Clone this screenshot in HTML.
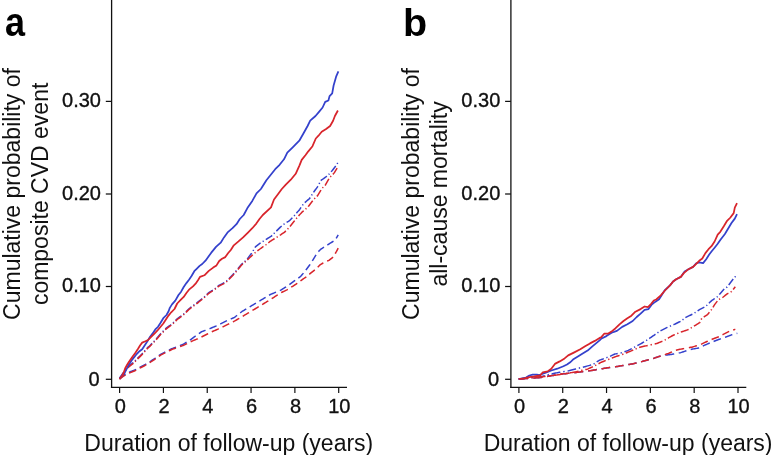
<!DOCTYPE html>
<html><head><meta charset="utf-8"><style>
html,body{margin:0;padding:0;background:#fff;width:776px;height:455px;overflow:hidden}
svg{display:block;filter:grayscale(0)}
.tl{stroke:#111;stroke-width:0.35px}
</style></head><body>
<svg width="776" height="455" viewBox="0 0 776 455">
<rect width="776" height="455" fill="#fff"/>
<text x="5.0" y="36" font-size="40" font-weight="bold" font-family="Liberation Sans, sans-serif" fill="#000" transform="translate(5,0) scale(0.9,1) translate(-5,0)">a</text>
<text x="403.0" y="36.3" font-size="38" font-weight="bold" font-family="Liberation Sans, sans-serif" fill="#000" transform="translate(403,0) scale(1.04,1) translate(-403,0)">b</text>
<line x1="111.6" y1="0" x2="111.6" y2="388.1" stroke="#111" stroke-width="1.3"/>
<line x1="110.94999999999999" y1="387.4" x2="347" y2="387.4" stroke="#111" stroke-width="1.3"/>
<line x1="105.8" y1="379.3" x2="111.6" y2="379.3" stroke="#111" stroke-width="1.25"/>
<text x="99.7" y="385.7" class="tl" text-anchor="end" font-size="20" font-family="Liberation Sans, sans-serif" fill="#111">0</text>
<line x1="105.8" y1="286.5" x2="111.6" y2="286.5" stroke="#111" stroke-width="1.25"/>
<text x="101.0" y="292.2" class="tl" text-anchor="end" font-size="20" font-family="Liberation Sans, sans-serif" fill="#111">0.10</text>
<line x1="105.8" y1="194.0" x2="111.6" y2="194.0" stroke="#111" stroke-width="1.25"/>
<text x="101.0" y="199.7" class="tl" text-anchor="end" font-size="20" font-family="Liberation Sans, sans-serif" fill="#111">0.20</text>
<line x1="105.8" y1="101.4" x2="111.6" y2="101.4" stroke="#111" stroke-width="1.25"/>
<text x="101.0" y="107.10000000000001" class="tl" text-anchor="end" font-size="20" font-family="Liberation Sans, sans-serif" fill="#111">0.30</text>
<line x1="119.6" y1="387.4" x2="119.6" y2="393" stroke="#111" stroke-width="1.2"/>
<text x="120.19999999999999" y="412.9" class="tl" text-anchor="middle" font-size="20" font-family="Liberation Sans, sans-serif" fill="#111">0</text>
<line x1="163.42" y1="387.4" x2="163.42" y2="393" stroke="#111" stroke-width="1.2"/>
<text x="164.01999999999998" y="412.9" class="tl" text-anchor="middle" font-size="20" font-family="Liberation Sans, sans-serif" fill="#111">2</text>
<line x1="207.24" y1="387.4" x2="207.24" y2="393" stroke="#111" stroke-width="1.2"/>
<text x="207.84" y="412.9" class="tl" text-anchor="middle" font-size="20" font-family="Liberation Sans, sans-serif" fill="#111">4</text>
<line x1="251.06" y1="387.4" x2="251.06" y2="393" stroke="#111" stroke-width="1.2"/>
<text x="251.66" y="412.9" class="tl" text-anchor="middle" font-size="20" font-family="Liberation Sans, sans-serif" fill="#111">6</text>
<line x1="294.88" y1="387.4" x2="294.88" y2="393" stroke="#111" stroke-width="1.2"/>
<text x="295.48" y="412.9" class="tl" text-anchor="middle" font-size="20" font-family="Liberation Sans, sans-serif" fill="#111">8</text>
<line x1="338.7" y1="387.4" x2="338.7" y2="393" stroke="#111" stroke-width="1.2"/>
<text x="339.3" y="412.9" class="tl" text-anchor="middle" font-size="20" font-family="Liberation Sans, sans-serif" fill="#111">10</text>
<text x="228.8" y="451.0" text-anchor="middle" font-size="23" font-family="Liberation Sans, sans-serif" fill="#111">Duration of follow-up (years)</text>
<text transform="translate(20.1,194.0) rotate(-90)" text-anchor="middle" font-size="23" font-family="Liberation Sans, sans-serif" fill="#111">Cumulative probability of</text>
<text transform="translate(48.1,193.9) rotate(-90)" text-anchor="middle" font-size="23" font-family="Liberation Sans, sans-serif" fill="#111">composite CVD event</text>
<path d="M119.50,378.20L120.50,377.49L121.50,376.77L122.50,376.06L123.49,375.42L124.47,374.85L125.46,374.28L125.54,374.24M129.04,372.24L129.88,371.92L130.87,371.53L131.85,371.15L132.84,370.76L133.82,370.38L134.81,369.99L135.79,369.52L136.13,369.33M139.66,367.36L140.50,366.94L141.50,366.43L142.50,365.92L143.50,365.42L144.50,364.91L145.50,364.40L146.25,363.95M149.64,361.84L150.53,361.26L151.52,360.62L152.52,359.98L153.51,359.34L154.50,358.70L155.48,358.00L155.66,357.86M158.86,355.56L159.62,355.00L160.60,354.30L161.58,353.81L162.56,353.32L163.53,352.83L164.51,352.34L165.27,351.97M168.93,350.13L169.84,349.68L170.80,349.20L171.76,348.72L172.75,348.34L173.75,348.00L174.75,347.65L175.75,347.30L176.01,347.21M179.94,345.64L180.75,345.29L181.75,344.86L182.75,344.43L183.75,343.95L184.75,343.35L185.75,342.75L186.56,342.26M189.96,340.16L190.72,339.60L191.69,338.88L192.66,338.16L193.64,337.44L194.61,336.72L195.58,336.00L195.71,335.91M198.91,333.61L199.68,333.06L200.64,332.38L201.60,331.70L202.57,331.34L203.55,330.98L204.52,330.62L205.49,330.26L205.54,330.24M209.54,328.74L210.39,328.38L211.38,327.97L212.38,327.55L213.37,327.14L214.36,326.72L215.36,326.31L216.34,325.88L216.57,325.77M220.26,323.96L221.00,323.60L221.99,323.10L222.99,322.61L223.98,322.11L224.97,321.61L225.97,321.12L226.93,320.63M230.75,318.95L231.62,318.60L232.59,318.20L233.57,317.80L234.55,317.31L235.55,316.53L236.55,315.76L237.12,315.32M240.22,312.92L241.05,312.27L242.05,311.49L243.03,310.86L244.01,310.27L244.99,309.68L245.97,309.09L246.23,308.93M249.67,306.87L250.62,306.29L251.60,305.70L252.59,305.11L253.58,304.52L254.57,303.93L255.56,303.34L255.92,303.12M259.37,301.07L260.26,300.54L261.24,299.95L262.22,299.36L263.20,298.77L264.18,298.18L265.16,297.59L265.62,297.32M269.05,295.25L269.81,294.79L270.80,294.30L271.79,293.89L272.79,293.48L273.78,293.07L274.78,292.66L275.77,292.25L275.97,292.17M279.86,290.56L280.74,290.15L281.72,289.54L282.70,288.93L283.68,288.33L284.66,287.72L285.64,287.11L286.12,286.82M289.38,284.58L290.35,283.86L291.35,283.11L292.35,282.37L293.35,281.63L294.35,280.89L295.13,280.33M298.34,278.04L299.31,277.36L300.30,276.65L301.20,275.82L302.00,274.85L302.80,273.89L303.43,273.13M305.88,270.08L306.50,269.25L307.24,268.25L307.99,267.25L308.73,266.25L309.47,265.25L310.14,264.34M312.27,260.97L312.83,260.08L313.43,259.10L314.04,258.12L314.65,257.14L315.25,256.17L315.85,255.19L316.09,254.79M318.40,251.60L319.25,250.75L320.25,249.75L321.24,248.86L322.22,248.28L323.20,247.70L324.02,247.22M327.39,245.09L328.29,244.49L329.25,243.85L330.22,243.22L331.19,242.60L332.17,242.00L333.14,241.40L333.49,241.19M336.17,238.37L336.65,237.55L337.21,236.59L337.78,235.62L338.20,234.90" fill="none" stroke="#3441cc" stroke-width="1.5" stroke-linejoin="round" stroke-linecap="butt"/>
<path d="M119.50,379.00L120.50,378.29L121.50,377.57L122.50,376.86L123.49,376.22L124.47,375.65L125.46,375.08L125.54,375.04M129.04,373.04L129.88,372.72L130.87,372.33L131.85,371.95L132.84,371.56L133.82,371.18L134.81,370.79L135.79,370.32L136.13,370.13M139.66,368.16L140.50,367.74L141.50,367.23L142.50,366.72L143.50,366.22L144.50,365.71L145.50,365.20L146.25,364.75M149.64,362.64L150.53,362.06L151.52,361.42L152.52,360.78L153.51,360.14L154.50,359.50L155.48,358.80L155.66,358.66M158.86,356.36L159.62,355.80L160.60,355.10L161.58,354.61L162.56,354.12L163.53,353.63L164.51,353.14L165.27,352.77M168.93,350.93L169.84,350.48L170.80,350.00L171.76,349.52L172.75,349.14L173.75,348.80L174.75,348.45L175.75,348.10L176.01,348.01M180.06,346.56L181.00,346.22L182.00,345.85L183.00,345.48L184.00,345.05L184.99,344.56L185.98,344.06L186.98,343.56L187.03,343.53M190.70,341.70L191.70,341.28L192.70,340.85L193.70,340.43L194.70,340.01L195.70,339.58L196.70,339.16L197.70,338.74L197.72,338.72M201.47,336.97L202.43,336.49L203.42,335.99L204.41,335.49L205.41,335.00L206.40,334.50L207.38,334.00L208.12,333.62M211.79,331.79L212.54,331.47L213.52,331.05L214.51,330.62L215.50,330.20L216.49,329.78L217.48,329.35L218.46,328.93L218.79,328.79M222.52,327.02L223.36,326.60L224.34,326.12L225.31,325.64L226.30,325.15L227.30,324.66L228.30,324.16L229.21,323.71M232.89,321.89L233.80,321.45L234.80,320.91L235.80,320.32L236.80,319.73L237.80,319.14L238.80,318.56L239.28,318.28M242.74,316.24L243.52,315.78L244.50,315.20L245.48,314.62L246.46,314.04L247.44,313.46L248.42,312.88L249.02,312.52M252.47,310.47L253.33,309.95L254.32,309.35L255.31,308.75L256.30,308.15L257.29,307.55L258.28,306.95L258.70,306.70M262.12,304.62L262.96,304.10L263.94,303.50L264.92,302.90L265.89,302.30L266.87,301.70L267.85,301.10L268.32,300.82M271.70,298.70L272.54,298.15L273.53,297.51L274.53,296.86L275.52,296.22L276.52,295.58L277.51,294.93L277.77,294.77M281.17,292.67L281.97,292.28L282.95,291.79L283.93,291.31L284.91,290.83L285.89,290.34L286.87,289.86L287.85,289.35M291.22,287.22L292.10,286.67L293.10,286.04L294.10,285.41L295.10,284.75L296.09,284.04L297.08,283.34L297.23,283.23M300.45,280.95L301.29,280.35L302.26,279.64L303.24,278.94L304.22,278.24L305.19,277.53L306.17,276.83L306.26,276.76M309.30,274.30L310.03,273.70L311.00,272.90L311.96,272.10L312.93,271.32L313.91,270.54L314.82,269.82M317.73,267.23L318.47,266.48L319.40,265.52L320.34,264.66L321.32,264.08L322.30,263.50L323.28,262.92L323.37,262.87M327.13,261.13L327.92,260.80L328.90,260.40L329.88,259.62L330.86,258.84L331.83,258.07L332.81,257.29L333.08,257.08M335.19,253.69L335.76,252.74L336.28,251.77L336.79,250.79L337.31,249.81L337.82,248.83L338.20,248.10" fill="none" stroke="#d8242b" stroke-width="1.5" stroke-linejoin="round" stroke-linecap="butt"/>
<path d="M119.50,378.30L120.19,377.30L120.88,376.30L121.58,375.30L122.27,374.30L122.96,373.30L123.65,372.30L123.80,372.10M125.30,370.20L125.95,369.40L126.06,369.26M127.59,367.39L128.39,366.60L129.36,365.80L130.33,365.00L131.31,364.20L132.28,363.40L133.26,362.60L133.28,362.58M135.00,360.90L135.75,360.15L135.85,360.05M137.55,358.35L138.50,357.40L139.49,356.41L140.48,355.42L141.47,354.43L142.45,353.45L142.79,353.09M144.37,351.27L145.00,350.55L145.16,350.36M146.74,348.54L147.55,347.68L148.53,346.81L149.51,345.94L150.47,345.03L151.41,344.09L152.10,343.40M153.77,341.67L154.56,340.76M156.16,338.96L156.82,338.20L157.70,337.20L158.52,336.25L159.35,335.30L160.18,334.35L161.00,333.40L161.05,333.35M162.75,331.65L163.50,330.90L163.60,330.80M165.30,329.10L166.25,328.15L167.25,327.37L168.25,326.66L169.25,325.95L170.25,325.24L171.24,324.54M173.05,322.95L173.90,322.10M175.60,320.40L176.50,319.50L177.50,318.50L178.50,317.81L179.50,317.12L180.50,316.43L181.46,315.76M183.40,314.30L184.25,313.45M185.95,311.75L186.75,310.95L187.75,309.95L188.74,309.01L189.71,308.24L190.69,307.46L191.51,306.81M193.45,305.35L194.40,304.65L194.43,304.63M196.38,303.18L197.14,302.61L198.12,301.84L199.10,301.07L200.08,300.30L201.06,299.53L202.03,298.76L202.27,298.57M204.12,297.02L204.95,296.24L204.99,296.19M206.74,294.54L207.60,293.74L208.56,292.83L209.55,292.14L210.55,291.52L211.55,290.90L212.55,290.28L212.82,290.12M214.85,288.75L215.78,287.98M217.63,286.43L218.51,285.71L219.48,285.08L220.45,284.63L221.41,284.18L222.38,283.74L223.34,283.24L224.28,282.61L224.30,282.60M226.34,281.24L227.13,280.47L227.20,280.40M228.90,278.70L229.82,277.78L230.80,276.80L231.78,275.82L232.76,274.84L233.62,273.87L234.05,273.35M235.61,271.51L236.30,270.70L236.39,270.59M237.94,268.74L238.74,267.77L239.56,266.79L240.37,265.81L241.19,264.83L242.04,263.89L242.87,263.17M244.70,261.60L245.47,260.93L245.61,260.81M247.19,258.99L247.88,258.10L248.62,257.12L249.37,256.14L250.11,255.16L250.86,254.18L251.60,253.20L251.71,253.01M253.00,250.90L253.53,250.02L253.64,249.84M254.92,247.72L255.45,246.84L256.32,246.07L257.29,245.36L258.25,244.65L259.21,243.94L260.18,243.23L260.61,242.91M262.67,241.57L263.62,240.97L263.71,240.91M265.79,239.59L266.58,239.10L267.55,238.50L268.51,237.90L269.47,237.30L270.44,236.70L271.40,236.10L272.10,235.40M273.80,233.70L274.65,232.85L274.65,232.85M276.35,231.15L277.13,230.37L278.12,229.38L279.11,228.39L280.10,227.40L281.10,226.49L281.70,226.00M283.56,224.46L284.35,223.81L284.49,223.69M286.62,222.42L287.51,221.89L288.47,221.33L289.44,220.66L290.41,219.69L291.38,218.72L292.35,217.75L292.40,217.70M294.08,215.98L294.85,215.07L294.86,215.06M296.43,213.23L297.17,212.36L298.01,211.37L298.86,210.39L299.70,209.40L300.37,208.42L301.03,207.43L301.07,207.37M302.45,205.35L303.03,204.48L303.13,204.33M304.78,202.58L305.67,201.83L306.65,201.00L307.63,200.17L308.62,199.33L309.60,198.50L310.22,197.52M311.54,195.44L312.13,194.50L312.20,194.40M313.53,192.33L314.12,191.52L314.83,190.54L315.55,189.56L316.27,188.58L316.99,187.60L317.70,186.62L317.97,186.27M319.13,184.03L319.45,183.22L319.61,182.81M320.75,180.55L321.62,179.94L322.60,179.25L323.58,178.56L324.56,177.87L325.54,177.18L326.52,176.49L326.91,176.21M328.64,174.54L329.44,173.64M331.05,171.85L331.90,170.90L332.67,169.92L333.43,168.93L334.20,167.95L334.97,166.97L335.71,166.01M337.09,163.99L337.61,163.09L337.71,162.91" fill="none" stroke="#3441cc" stroke-width="1.5" stroke-linejoin="round" stroke-linecap="butt"/>
<path d="M119.50,379.00L120.19,378.00L120.88,377.00L121.58,376.00L122.27,375.00L122.96,374.00L123.65,373.00L123.80,372.80M125.30,370.90L125.95,370.10L126.06,369.96M127.59,368.09L128.39,367.30L129.36,366.50L130.33,365.70L131.31,364.90L132.28,364.10L133.26,363.30L133.28,363.28M135.00,361.60L135.85,360.75M137.55,359.05L138.50,358.10L139.49,357.11L140.48,356.12L141.47,355.13L142.45,354.15L142.79,353.79M144.37,351.97L145.00,351.25L145.16,351.06M146.74,349.24L147.55,348.38L148.53,347.51L149.51,346.64L150.47,345.73L151.41,344.79L152.10,344.10M153.77,342.37L154.56,341.46M156.16,339.66L156.82,338.90L157.70,337.90L158.52,336.95L159.35,336.00L160.18,335.05L161.00,334.10L161.05,334.05M162.75,332.35L163.60,331.50M165.30,329.80L166.25,328.85L167.25,328.07L168.25,327.36L169.25,326.65L170.25,325.94L171.24,325.24M173.05,323.65L173.90,322.80M175.60,321.10L176.50,320.20L177.50,319.20L178.50,318.51L179.50,317.82L180.50,317.13L181.46,316.46M183.40,315.00L184.25,314.15M185.95,312.45L186.75,311.65L187.75,310.65L188.74,309.71L189.71,308.94L190.69,308.16L191.51,307.51M193.45,306.05L194.40,305.35L194.43,305.33M196.38,303.88L197.14,303.31L198.12,302.54L199.10,301.77L200.08,301.00L201.06,300.23L202.03,299.46L202.27,299.27M204.12,297.72L204.95,296.94L204.99,296.89M206.74,295.24L207.60,294.44L208.56,293.53L209.55,292.84L210.55,292.22L211.55,291.60L212.55,290.98L212.82,290.82M214.85,289.45L215.78,288.68M217.63,287.13L218.51,286.41L219.48,285.78L220.45,285.33L221.41,284.88L222.38,284.44L223.34,283.94L224.28,283.31L224.30,283.30M226.34,281.94L227.13,281.17L227.20,281.10M228.90,279.40L229.82,278.48L230.80,277.50L231.78,276.52L232.76,275.54L233.62,274.57L234.05,274.05M235.61,272.21L236.30,271.40L236.39,271.29M237.94,269.44L238.74,268.47L239.56,267.49L240.37,266.51L241.19,265.53L242.04,264.59L242.87,263.87M244.70,262.30L245.47,261.63L245.61,261.51M247.38,259.88L248.14,259.14L249.11,258.21L250.09,257.29L251.06,256.36L252.03,255.43L252.74,254.74M254.59,253.19L255.44,252.50L255.53,252.43M257.41,250.91L258.35,250.21L259.31,249.48L260.27,248.75L261.24,248.03L262.20,247.30L263.18,246.65L263.46,246.46M265.50,245.10L266.35,244.49L266.48,244.38M268.35,242.85L269.10,242.22L270.10,241.40L271.06,240.80L272.03,240.20L272.99,239.60L273.95,239.00L274.60,238.60M276.68,237.28L277.63,236.69L277.72,236.62M279.80,235.30L280.60,234.80L281.60,234.12L282.60,233.45L283.60,232.78L284.60,232.10L285.57,231.13L285.85,230.85M287.55,229.15L288.40,228.30M290.00,226.50L290.78,225.51L291.56,224.52L292.35,223.52L293.14,222.53L293.93,221.54L294.64,220.64M296.17,218.77L296.96,217.86M298.54,216.04L299.34,215.11L300.20,214.12L301.06,213.14L301.95,212.19L302.93,211.36L303.70,210.70M305.54,209.14L306.37,208.44L306.46,208.36M308.16,206.66L308.73,205.92L309.48,204.93L310.23,203.94L310.98,202.96L311.73,201.97L312.48,200.98L312.69,200.69M314.26,198.86L315.10,198.04L315.12,198.02M316.84,196.34L317.60,195.60L318.21,194.62L318.81,193.64L319.42,192.66L320.03,191.68L320.63,190.70L321.04,190.04M322.45,188.05L323.18,187.32L323.30,187.20M325.00,185.50L325.58,184.70L326.15,183.71L326.72,182.72L327.29,181.72L327.85,180.73L328.42,179.74L328.90,178.90M330.30,176.90L331.15,176.05M332.85,174.35L333.61,173.59L334.40,172.61L335.00,171.64L335.60,170.67L336.20,169.70L336.80,168.73L337.15,168.15" fill="none" stroke="#d8242b" stroke-width="1.5" stroke-linejoin="round" stroke-linecap="butt"/>
<path d="M119.5,379.0 L124.0,374.1 L129.0,364.4 L131.6,360.4 L134.2,357.1 L136.9,353.8 L139.5,351.2 L142.2,349.2 L144.8,345.2 L147.4,341.3 L150.1,336.7 L152.7,333.4 L155.3,329.4 L158.0,326.8 L160.6,322.8 L163.3,318.2 L166.5,315.0 L168.7,311.0 L169.8,307.9 L172.0,304.4 L175.3,300.6 L178.5,295.0 L181.1,291.7 L183.7,287.0 L186.4,283.1 L189.0,279.8 L191.7,275.8 L194.3,271.2 L196.9,268.6 L199.6,265.9 L202.2,264.0 L205.5,260.7 L211.1,252.9 L216.0,246.9 L220.7,242.7 L224.0,237.4 L227.9,232.1 L232.5,228.2 L236.5,224.2 L239.8,219.0 L243.7,215.0 L247.4,208.1 L252.3,200.9 L256.5,193.4 L260.9,189.0 L266.4,180.2 L270.8,174.7 L275.2,169.2 L279.6,164.8 L284.0,159.3 L287.3,152.7 L292.7,147.3 L299.3,140.7 L303.7,133.0 L307.6,126.0 L310.2,120.7 L315.5,116.0 L319.0,111.9 L322.6,107.5 L325.2,101.9 L328.4,100.5 L329.6,96.1 L332.2,93.4 L333.6,85.5 L336.1,76.7 L338.4,71.4" fill="none" stroke="#3441cc" stroke-width="1.75" stroke-linejoin="round" stroke-linecap="butt"/>
<path d="M119.5,379.0 L122.8,375.2 L125.1,368.5 L127.0,365.0 L129.0,361.7 L132.3,357.1 L135.6,352.5 L138.2,348.5 L140.2,345.2 L142.2,342.6 L145.4,341.3 L148.1,340.0 L151.4,336.7 L154.7,333.4 L157.3,330.7 L160.6,326.8 L163.3,323.5 L165.9,319.5 L168.5,315.6 L171.2,312.3 L174.5,309.0 L177.2,303.5 L180.4,300.2 L183.7,296.9 L186.4,293.0 L189.0,289.7 L193.0,286.4 L195.6,283.7 L198.3,279.8 L200.0,276.9 L204.4,275.3 L208.8,270.9 L213.2,267.6 L216.5,265.4 L219.2,261.0 L222.0,258.8 L225.3,257.1 L228.0,253.3 L230.8,250.0 L233.8,245.3 L238.5,241.4 L243.1,237.4 L247.7,232.8 L252.3,228.2 L256.3,223.6 L259.5,219.0 L262.8,215.0 L271.0,207.4 L274.0,199.5 L278.5,193.4 L281.8,189.0 L285.8,184.7 L290.8,179.7 L295.7,173.8 L299.5,165.3 L301.7,159.9 L305.6,155.0 L308.1,151.6 L312.5,146.2 L315.8,138.5 L318.5,135.7 L321.7,131.8 L326.1,129.0 L330.1,126.0 L333.1,120.7 L334.9,116.0 L337.9,110.5" fill="none" stroke="#d8242b" stroke-width="1.75" stroke-linejoin="round" stroke-linecap="butt"/>
<line x1="510.9" y1="0" x2="510.9" y2="388.1" stroke="#111" stroke-width="1.3"/>
<line x1="510.25" y1="387.4" x2="746.3" y2="387.4" stroke="#111" stroke-width="1.3"/>
<line x1="505.1" y1="379.3" x2="510.9" y2="379.3" stroke="#111" stroke-width="1.25"/>
<text x="499.0" y="385.7" class="tl" text-anchor="end" font-size="20" font-family="Liberation Sans, sans-serif" fill="#111">0</text>
<line x1="505.1" y1="286.5" x2="510.9" y2="286.5" stroke="#111" stroke-width="1.25"/>
<text x="500.3" y="292.2" class="tl" text-anchor="end" font-size="20" font-family="Liberation Sans, sans-serif" fill="#111">0.10</text>
<line x1="505.1" y1="194.0" x2="510.9" y2="194.0" stroke="#111" stroke-width="1.25"/>
<text x="500.3" y="199.7" class="tl" text-anchor="end" font-size="20" font-family="Liberation Sans, sans-serif" fill="#111">0.20</text>
<line x1="505.1" y1="101.4" x2="510.9" y2="101.4" stroke="#111" stroke-width="1.25"/>
<text x="500.3" y="107.10000000000001" class="tl" text-anchor="end" font-size="20" font-family="Liberation Sans, sans-serif" fill="#111">0.30</text>
<line x1="518.9" y1="387.4" x2="518.9" y2="393" stroke="#111" stroke-width="1.2"/>
<text x="519.5" y="412.9" class="tl" text-anchor="middle" font-size="20" font-family="Liberation Sans, sans-serif" fill="#111">0</text>
<line x1="562.72" y1="387.4" x2="562.72" y2="393" stroke="#111" stroke-width="1.2"/>
<text x="563.32" y="412.9" class="tl" text-anchor="middle" font-size="20" font-family="Liberation Sans, sans-serif" fill="#111">2</text>
<line x1="606.54" y1="387.4" x2="606.54" y2="393" stroke="#111" stroke-width="1.2"/>
<text x="607.14" y="412.9" class="tl" text-anchor="middle" font-size="20" font-family="Liberation Sans, sans-serif" fill="#111">4</text>
<line x1="650.36" y1="387.4" x2="650.36" y2="393" stroke="#111" stroke-width="1.2"/>
<text x="650.96" y="412.9" class="tl" text-anchor="middle" font-size="20" font-family="Liberation Sans, sans-serif" fill="#111">6</text>
<line x1="694.18" y1="387.4" x2="694.18" y2="393" stroke="#111" stroke-width="1.2"/>
<text x="694.78" y="412.9" class="tl" text-anchor="middle" font-size="20" font-family="Liberation Sans, sans-serif" fill="#111">8</text>
<line x1="738.0" y1="387.4" x2="738.0" y2="393" stroke="#111" stroke-width="1.2"/>
<text x="738.6" y="412.9" class="tl" text-anchor="middle" font-size="20" font-family="Liberation Sans, sans-serif" fill="#111">10</text>
<text x="628.1" y="451.0" text-anchor="middle" font-size="23" font-family="Liberation Sans, sans-serif" fill="#111">Duration of follow-up (years)</text>
<text transform="translate(419.40000000000003,194.0) rotate(-90)" text-anchor="middle" font-size="23" font-family="Liberation Sans, sans-serif" fill="#111">Cumulative probability of</text>
<text transform="translate(447.40000000000003,193.9) rotate(-90)" text-anchor="middle" font-size="23" font-family="Liberation Sans, sans-serif" fill="#111">all-cause mortality</text>
<path d="M518.70,379.00L519.69,378.93L520.68,378.87L521.67,378.80L522.66,378.74L523.65,378.67L524.64,378.61L525.63,378.54L526.63,378.48L527.62,378.41L528.08,378.38M533.24,378.04L534.06,377.99L535.05,377.93L536.04,377.86L537.03,377.80L538.02,377.73L539.01,377.67L540.00,377.60L541.00,377.43L542.00,377.26L542.39,377.19M547.09,376.39L548.00,376.24L549.00,376.07L550.00,375.90L551.00,375.73L552.00,375.56L553.00,375.39L554.00,375.22L555.00,375.05L555.64,374.94M560.36,374.16L561.25,374.07L562.25,373.97L563.25,373.86L564.25,373.76L565.25,373.66L566.25,373.55L567.25,373.45L568.25,373.35L569.25,373.25L569.43,373.23M574.41,372.71L575.25,372.63L576.25,372.50L577.24,372.37L578.23,372.25L579.23,372.12L580.22,371.99L581.21,371.86L582.21,371.73L583.20,371.60L583.29,371.59M588.16,370.96L588.91,370.86L589.91,370.73L590.90,370.60L591.90,370.43L592.90,370.26L593.90,370.10L594.90,369.93L595.90,369.76L596.81,369.61M601.52,368.82L602.40,368.67L603.40,368.50L604.40,368.34L605.40,368.17L606.40,368.00L607.38,367.86L608.37,367.72L609.35,367.58L610.17,367.47M614.98,366.78L615.73,366.68L616.72,366.54L617.70,366.40L618.70,366.23L619.70,366.06L620.70,365.88L621.70,365.71L622.70,365.54L623.59,365.39M628.28,364.58L629.20,364.42L630.20,364.24L631.20,364.07L632.20,363.90L633.19,363.68L634.19,363.46L635.18,363.24L636.17,363.02L636.62,362.92M641.03,361.83L641.82,361.61L642.79,361.33L643.76,361.05L644.73,360.78L645.70,360.50L646.70,360.22L647.70,359.94L648.70,359.65L648.82,359.62M653.11,358.41L653.95,358.17L654.94,357.85L655.94,357.52L656.93,357.19L657.92,356.86L658.92,356.53L659.91,356.20L660.65,355.95M665.41,355.21L666.30,355.10L667.29,354.96L668.28,354.82L669.26,354.68L670.25,354.54L671.24,354.39L672.23,354.25L673.22,354.11L674.18,353.97M678.74,353.04L679.58,352.86L680.56,352.65L681.54,352.35L682.54,352.02L683.53,351.69L684.52,351.36L685.52,351.03L686.43,350.72M690.73,349.53L691.67,349.30L692.65,349.06L693.63,348.88L694.61,348.71L695.59,348.54L696.57,348.38L697.55,348.21L698.53,348.05L699.14,347.94M702.82,346.12L703.70,345.60L704.69,345.18L705.68,344.75L706.66,344.32L707.65,343.90L708.64,343.48L709.62,343.05L709.71,343.01M713.63,341.43L714.56,341.07L715.55,340.70L716.54,340.32L717.52,339.95L718.51,339.57L719.50,339.20L720.48,338.87L720.92,338.72M725.03,337.33L725.90,337.01L726.90,336.62L727.90,336.24L728.90,335.86L729.90,335.47L730.90,335.09L731.89,334.77L732.34,334.64M736.67,333.47L737.30,333.30" fill="none" stroke="#3441cc" stroke-width="1.5" stroke-linejoin="round" stroke-linecap="butt"/>
<path d="M518.70,379.00L519.69,378.93L520.68,378.87L521.67,378.80L522.66,378.74L523.65,378.67L524.64,378.61L525.63,378.54L526.63,378.48L527.62,378.41L528.08,378.38M533.24,378.04L534.06,377.99L535.05,377.93L536.04,377.86L537.03,377.80L538.02,377.73L539.01,377.67L540.00,377.60L541.00,377.43L542.00,377.26L542.39,377.19M547.09,376.39L548.00,376.24L549.00,376.07L550.00,375.90L551.00,375.73L552.00,375.56L553.00,375.39L554.00,375.22L555.00,375.05L555.64,374.94M560.36,374.16L561.25,374.07L562.25,373.97L563.25,373.86L564.25,373.76L565.25,373.66L566.25,373.55L567.25,373.45L568.25,373.35L569.25,373.25L569.43,373.23M574.41,372.71L575.25,372.63L576.25,372.50L577.24,372.37L578.23,372.25L579.23,372.12L580.22,371.99L581.21,371.86L582.21,371.73L583.20,371.60L583.29,371.59M588.16,370.96L588.91,370.86L589.91,370.73L590.90,370.60L591.90,370.43L592.90,370.26L593.90,370.10L594.90,369.93L595.90,369.76L596.81,369.61M601.52,368.82L602.40,368.67L603.40,368.50L604.40,368.34L605.40,368.17L606.40,368.00L607.38,367.86L608.37,367.72L609.35,367.58L610.17,367.47M614.98,366.78L615.73,366.68L616.72,366.54L617.70,366.40L618.70,366.23L619.70,366.06L620.70,365.88L621.70,365.71L622.70,365.54L623.59,365.39M628.28,364.58L629.20,364.42L630.20,364.24L631.20,364.07L632.20,363.90L633.19,363.68L634.19,363.46L635.18,363.24L636.17,363.02L636.62,362.92M641.03,361.83L641.82,361.61L642.79,361.33L643.76,361.05L644.73,360.78L645.70,360.50L646.70,360.22L647.70,359.94L648.70,359.65L648.82,359.62M653.11,358.41L653.95,358.17L654.94,357.85L655.94,357.52L656.93,357.19L657.92,356.86L658.92,356.53L659.91,356.20L660.65,355.95M664.79,354.59L665.54,354.34L666.51,354.02L667.48,353.70L668.46,353.38L669.44,352.98L670.44,352.55L671.43,352.12L672.06,351.86M675.90,350.20L676.90,349.99L677.90,349.78L678.90,349.56L679.90,349.35L680.90,349.14L681.90,348.93L682.90,348.72L683.90,348.51L684.15,348.45M688.87,347.67L689.75,347.52L690.73,347.36L691.70,347.20L692.68,346.92L693.65,346.64L694.63,346.35L695.61,346.07L696.58,345.79L696.90,345.70M701.01,344.31L701.97,343.86L702.95,343.38L703.94,342.91L704.92,342.44L705.91,341.97L706.89,341.50L707.77,341.07M711.63,339.43L712.56,339.07L713.55,338.70L714.54,338.32L715.52,337.95L716.51,337.57L717.50,337.20L718.50,336.72L718.78,336.58M722.49,334.79L723.25,334.42L724.24,333.93L725.22,333.43L726.20,332.93L727.19,332.43L728.17,331.93L729.13,331.43M733.21,330.01L734.07,329.72L735.05,329.38L735.30,329.30" fill="none" stroke="#d8242b" stroke-width="1.5" stroke-linejoin="round" stroke-linecap="butt"/>
<path d="M518.70,379.00L519.69,378.90L520.68,378.80L521.67,378.69L522.66,378.59L523.65,378.49L524.64,378.39L525.63,378.28L526.63,378.18L527.62,378.08L528.22,378.02M531.30,377.70L532.07,377.62L532.84,377.54M535.92,377.22L536.78,377.13L537.77,377.03L538.76,376.93L539.75,376.83L540.74,376.62L541.72,376.37L542.71,376.13L543.69,375.88L544.68,375.64L544.81,375.61M547.53,374.93L548.37,374.72L548.89,374.59M551.62,373.92L552.56,373.68L553.55,373.45L554.54,373.26L555.53,373.07L556.53,372.87L557.52,372.68L558.51,372.49L559.50,372.30L560.34,372.14M563.24,371.64L564.16,371.48L564.69,371.39M567.59,370.89L568.57,370.73L569.55,370.54L570.55,370.28L571.55,370.03L572.55,369.77L573.55,369.52L574.55,369.26L575.55,369.01L576.08,368.88M578.79,368.19L579.55,367.99L580.14,367.84M582.85,367.15L583.80,366.91L584.80,366.65L585.80,366.40L586.78,366.14L587.76,365.88L588.74,365.61L589.72,365.35L590.70,365.09L591.16,364.96M593.62,364.02L594.35,363.53L594.64,363.34M596.68,361.98L597.50,361.43L598.47,360.78L599.44,360.21L600.41,359.87L601.39,359.53L602.36,359.19L603.33,358.84L603.86,358.66M606.35,357.75L607.27,357.40L607.59,357.29M610.07,356.37L610.97,355.92L611.94,355.43L612.91,354.95L613.87,354.46L614.84,354.05L615.81,353.87L616.79,353.68L617.71,353.51M620.56,352.96L621.40,352.80L621.92,352.62M624.44,351.74L625.31,351.44L626.29,351.10L627.27,350.76L628.25,350.38L629.25,349.88L630.25,349.38L631.25,348.88L631.80,348.60M634.05,347.45L634.87,347.03L635.18,346.88M637.38,345.68L638.23,345.20L639.20,344.65L640.17,344.10L641.13,343.55L642.10,343.00L643.10,342.38L644.02,341.82M646.12,340.52L647.10,339.92L647.17,339.87M649.23,338.53L650.05,337.96L651.03,337.28L652.00,336.61L652.98,335.94L653.96,335.27L654.95,334.58L655.44,334.24M657.44,332.84L658.20,332.30L658.44,332.14M660.47,330.77L661.42,330.30L662.39,329.82L663.36,329.34L664.34,328.86L665.31,328.38L666.28,327.90L667.26,327.42L667.50,327.30M669.88,326.28L670.73,325.91L671.07,325.77M673.44,324.74L674.20,324.41L675.19,323.96L676.16,323.48L677.14,323.00L678.12,322.52L679.09,322.04L680.07,321.56L680.53,321.33M682.50,319.90L683.30,319.30L683.47,319.17M685.40,317.70L686.30,317.16L687.30,316.67L688.30,316.18L689.30,315.69L690.30,315.21L691.30,314.72L692.30,314.23L692.39,314.19M694.57,312.97L695.52,312.33L695.59,312.29M697.61,310.91L698.47,310.33L699.45,309.67L700.44,309.12L701.42,308.62L702.40,308.12L703.39,307.62L704.34,307.14M706.36,305.76L707.21,304.91M708.93,303.23L709.85,302.32L710.85,301.34L711.85,300.43L712.83,299.77L713.81,299.10L714.70,298.50M716.73,297.13L717.50,296.60L717.69,296.39M719.27,294.57L720.07,293.64L720.93,292.66L721.79,291.67L722.64,290.69L723.50,289.70L724.29,289.09M726.21,287.61L727.16,286.89L727.17,286.87M728.69,284.99L729.27,284.23L730.02,283.24L730.77,282.26L731.52,281.27L732.27,280.28L733.02,279.29L733.23,279.03M734.78,277.18L735.47,276.37L735.56,276.26" fill="none" stroke="#3441cc" stroke-width="1.5" stroke-linejoin="round" stroke-linecap="butt"/>
<path d="M518.70,379.00L519.69,378.91L520.68,378.81L521.67,378.72L522.66,378.63L523.65,378.53L524.64,378.44L525.63,378.35L526.63,378.26L527.62,378.16L528.30,378.10M531.41,377.81L532.32,377.72L532.96,377.66M536.07,377.37L537.03,377.28L538.02,377.19L539.01,377.09L540.00,377.00L541.00,376.88L542.00,376.77L543.00,376.65L544.00,376.54L545.00,376.42L545.55,376.35M548.60,376.00L549.50,375.90L550.12,375.82M553.17,375.47L554.00,375.37L555.00,375.26L556.00,375.12L557.00,374.97L558.00,374.82L559.00,374.67L560.00,374.51L561.00,374.36L562.00,374.21L562.36,374.16M565.31,373.71L566.25,373.56L566.76,373.46M569.65,372.95L570.45,372.81L571.44,372.63L572.42,372.45L573.41,372.28L574.40,372.10L575.39,371.87L576.39,371.64L577.38,371.41L578.37,371.18L578.38,371.18M581.14,370.54L582.09,370.32L582.52,370.22M585.28,369.58L586.06,369.40L587.06,369.17L588.05,368.89L589.04,368.44L590.03,367.99L591.02,367.54L592.02,367.10L592.90,366.70M595.17,365.57L595.99,365.12L596.27,364.97M598.48,363.78L599.46,363.24L600.46,362.70L601.44,362.20L602.41,361.82L603.39,361.43L604.36,361.05L605.33,360.66L605.71,360.51M608.14,359.54L608.99,359.21L609.37,359.07M611.81,358.11L612.72,357.76L613.71,357.37L614.71,356.99L615.70,356.60L616.67,356.29L617.64,355.98L618.61,355.68L619.57,355.37M622.14,354.54L623.00,354.20L623.36,354.06M625.79,353.09L626.75,352.70L627.75,352.30L628.75,351.90L629.75,351.50L630.75,351.08L631.74,350.65L632.74,350.22L633.21,350.01M635.58,348.98L636.47,348.60L636.77,348.47M639.14,347.44L639.95,347.15L640.94,346.94L641.92,346.72L642.91,346.51L643.90,346.30L644.89,346.09L645.88,345.88L646.86,345.66L647.69,345.49M650.49,344.89L651.35,344.71L651.90,344.60M654.70,344.00L655.60,343.81L656.60,343.60L657.57,343.20L658.55,342.80L659.52,342.40L660.49,342.00L661.47,341.60L662.41,341.21M664.72,340.12L665.63,339.59L665.79,339.49M667.94,338.24L668.84,337.72L669.83,337.14L670.82,336.56L671.81,335.99L672.80,335.49L673.80,335.06L674.80,334.64L674.83,334.63M677.22,333.62L678.05,333.26L678.41,333.11M680.80,332.10L681.79,331.77L682.79,331.44L683.78,331.11L684.77,330.78L685.77,330.44L686.76,330.11L687.75,329.78L688.57,329.37M690.71,328.11L691.65,327.55L691.78,327.48M693.92,326.22L694.81,325.69L695.79,325.08L696.78,324.45L697.77,323.82L698.76,323.19L699.75,322.56L700.18,321.98M701.19,319.59L701.59,318.65L701.70,318.40M703.75,317.05L704.65,316.45L705.63,315.80L706.62,315.15L707.60,314.50L708.40,313.50L709.20,312.50L709.42,312.22M710.93,310.33L711.60,309.50L711.68,309.38M712.97,307.27L713.55,306.31L714.15,305.34L714.80,304.35L715.58,303.35L716.36,302.35L717.13,301.35L717.32,301.12M718.97,299.37L719.75,298.98L720.10,298.80M722.37,297.67L723.24,297.02L724.22,296.24L725.19,295.45L726.17,294.68L727.15,293.89L728.15,293.32L728.40,293.20M730.67,292.07L731.60,291.45L731.66,291.36M733.15,289.45L733.74,288.70L734.52,287.70L735.30,286.70" fill="none" stroke="#d8242b" stroke-width="1.5" stroke-linejoin="round" stroke-linecap="butt"/>
<path d="M518.7,379.0 L526.0,377.6 L529.4,375.5 L532.7,374.6 L536.9,374.6 L539.2,375.0 L545.2,372.9 L551.3,370.5 L557.3,368.7 L563.4,366.3 L567.0,364.5 L570.6,362.0 L573.0,359.6 L577.9,356.6 L582.7,353.6 L587.6,350.6 L592.4,346.3 L596.0,343.3 L599.6,340.3 L601.1,338.8 L606.4,336.1 L611.6,332.8 L616.9,330.9 L622.2,326.9 L627.4,324.3 L632.7,321.0 L636.7,317.0 L640.6,313.7 L644.6,309.8 L648.5,309.1 L651.8,304.5 L655.1,301.9 L659.1,299.2 L664.6,290.5 L670.0,285.4 L673.1,281.5 L676.2,279.2 L680.8,276.9 L684.6,271.5 L688.5,269.2 L693.1,266.9 L696.2,263.3 L699.2,262.3 L703.1,263.1 L706.2,259.2 L709.2,254.6 L711.5,251.5 L714.6,247.7 L717.7,243.8 L720.3,240.0 L724.9,234.0 L728.2,228.5 L731.5,223.0 L734.8,218.6 L737.0,214.2" fill="none" stroke="#3441cc" stroke-width="1.75" stroke-linejoin="round" stroke-linecap="butt"/>
<path d="M518.7,379.0 L524.3,378.4 L529.4,377.1 L534.3,376.4 L540.4,375.3 L542.8,372.3 L547.6,371.4 L551.3,368.7 L554.9,363.9 L559.7,361.4 L564.6,358.4 L568.2,355.4 L574.3,352.4 L580.3,349.3 L585.1,346.3 L590.0,343.4 L594.8,340.9 L599.6,337.9 L601.1,337.4 L604.4,333.5 L608.3,333.5 L612.3,330.9 L615.6,328.2 L619.5,324.3 L623.5,321.0 L627.4,318.3 L631.4,315.7 L635.4,311.7 L640.6,309.1 L644.6,306.5 L647.9,307.1 L651.2,303.8 L653.8,300.5 L656.2,299.5 L660.8,295.4 L665.4,290.0 L670.0,285.4 L673.1,281.5 L676.2,279.2 L680.8,276.9 L683.8,273.1 L688.5,269.2 L693.1,266.9 L696.2,263.8 L699.2,260.8 L702.3,258.5 L705.4,253.1 L708.5,249.2 L711.5,246.2 L714.6,241.5 L717.7,234.6 L720.3,231.8 L723.8,226.3 L727.1,220.8 L730.4,217.5 L733.7,213.1 L734.8,207.6 L737.0,203.2" fill="none" stroke="#d8242b" stroke-width="1.75" stroke-linejoin="round" stroke-linecap="butt"/>
</svg>
</body></html>
